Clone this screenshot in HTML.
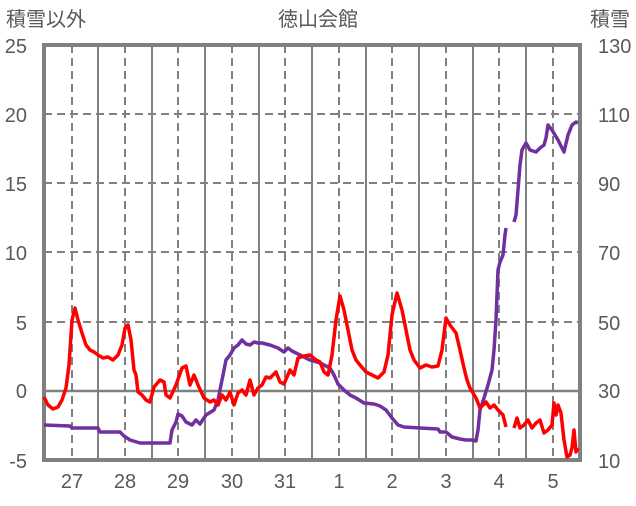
<!DOCTYPE html>
<html><head><meta charset="utf-8"><style>
body{margin:0;background:#fff;}
svg text{font-family:"Liberation Sans","Noto Sans CJK JP",sans-serif;fill:#595959;font-size:20px;}
</style></head><body>
<svg width="636" height="501" viewBox="0 0 636 501" xmlns="http://www.w3.org/2000/svg">
<g stroke="#808080" stroke-width="2" fill="none">
<g stroke-dasharray="8,5">
<line x1="44" y1="114" x2="580" y2="114"/><line x1="44" y1="183" x2="580" y2="183"/>
<line x1="44" y1="252" x2="580" y2="252"/><line x1="44" y1="322" x2="580" y2="322"/>
<line x1="72" y1="45" x2="72" y2="460"/><line x1="125" y1="45" x2="125" y2="460"/>
<line x1="178" y1="45" x2="178" y2="460"/><line x1="232" y1="45" x2="232" y2="460"/>
<line x1="285" y1="45" x2="285" y2="460"/><line x1="339" y1="45" x2="339" y2="460"/>
<line x1="392" y1="45" x2="392" y2="460"/><line x1="446" y1="45" x2="446" y2="460"/>
<line x1="499" y1="45" x2="499" y2="460"/><line x1="553" y1="45" x2="553" y2="460"/>
</g>
<line x1="98" y1="45" x2="98" y2="460"/><line x1="152" y1="45" x2="152" y2="460"/>
<line x1="205" y1="45" x2="205" y2="460"/><line x1="259" y1="45" x2="259" y2="460"/>
<line x1="312" y1="45" x2="312" y2="460"/><line x1="366" y1="45" x2="366" y2="460"/>
<line x1="419" y1="45" x2="419" y2="460"/><line x1="473" y1="45" x2="473" y2="460"/>
<line x1="526" y1="45" x2="526" y2="460"/>
<line x1="44" y1="391" x2="580" y2="391" stroke-width="2.5"/>
<rect x="44" y="45" width="536" height="415" stroke-width="4"/>
</g>
<g fill="none" stroke-width="3.5" stroke-linejoin="round">
<polyline stroke="#7030a0" points="44,425 70,426 72,428 98,428 100,432 120,432 124,436 130,440 140,443 170,443 172,430 176,422 178,414 182,416 186,422 192,425 196,420 200,424 206,415 214,410 218,400 222,380 226,360 230,355 234,348 238,345 242,340 246,344 250,345 254,342 258,343 262,343 270,345 278,348 284,352 288,348 292,351 300,355 310,360 320,363 330,368 334,375 338,384 344,390 350,395 356,398 364,403 374,404 380,406 386,410 392,418 398,425 404,427 420,428 438,429 440,432 446,432 452,437 460,439 466,440 472,440 476,441 478,430 480,410 484,398 488,385 492,370 494,350 496,320 498,270 500,262 503,255 505,235 506,228"/>
<polyline stroke="#7030a0" points="514,222 516,215 518,190 520,165 522,150 526,143 530,150 536,152 540,148 544,145 546,138 548,125 552,130 558,140 564,152 568,135 572,125 576,122 578,123"/>
<polyline stroke="#ff0000" points="44,397 48,405 53,409 58,407 62,400 66,388 69,365 72,320 75,308 78,320 82,333 86,345 90,350 94,352 98,355 103,358 108,357 113,360 118,355 122,345 125,328 128,325 131,340 134,370 136,375 138,392 142,395 146,400 150,402 154,387 160,380 164,382 166,395 170,398 176,385 182,368 186,366 190,385 194,375 198,385 204,398 210,402 214,400 218,405 222,395 226,400 230,392 234,405 238,393 242,390 246,395 250,380 254,395 258,388 262,385 266,377 270,378 276,372 280,382 284,384 290,370 294,375 298,358 304,356 310,355 316,360 320,362 324,372 328,375 332,355 336,320 340,296 344,310 348,330 352,350 356,360 360,365 366,372 372,375 378,378 384,372 388,355 392,315 397,293 402,310 406,330 410,350 414,360 420,368 426,365 432,367 438,366 442,350 446,318 450,325 456,333 460,350 464,368 467,380 470,388 476,398 480,408 486,402 490,408 494,405 498,410 503,415 506,427"/>
<polyline stroke="#ff0000" points="514,428 517,418 520,428 524,425 528,420 532,428 536,423 540,420 544,433 548,430 552,425 554,403 556,415 558,405 561,413 564,440 567,457 570,455 572,448 574,430 576,452 578,448"/>
</g>
<text x="6" y="26">積雪以外</text>
<text x="318" y="26" text-anchor="middle">徳山会館</text>
<text x="630" y="26" text-anchor="end">積雪</text>
<g text-anchor="end">
<text x="27" y="53">25</text><text x="27" y="122">20</text><text x="27" y="191">15</text>
<text x="27" y="260">10</text><text x="27" y="330">5</text><text x="27" y="398">0</text><text x="27" y="468">-5</text>
</g>
<g text-anchor="start">
<text x="598" y="53">130</text><text x="598" y="122">110</text><text x="598" y="191">90</text>
<text x="598" y="260">70</text><text x="598" y="330">50</text><text x="598" y="398">30</text><text x="598" y="468">10</text>
</g>
<g text-anchor="middle">
<text x="72" y="488">27</text><text x="125" y="488">28</text><text x="178" y="488">29</text>
<text x="232" y="488">30</text><text x="285" y="488">31</text><text x="339" y="488">1</text>
<text x="392" y="488">2</text><text x="446" y="488">3</text><text x="499" y="488">4</text><text x="553" y="488">5</text>
</g>
</svg>
</body></html>
